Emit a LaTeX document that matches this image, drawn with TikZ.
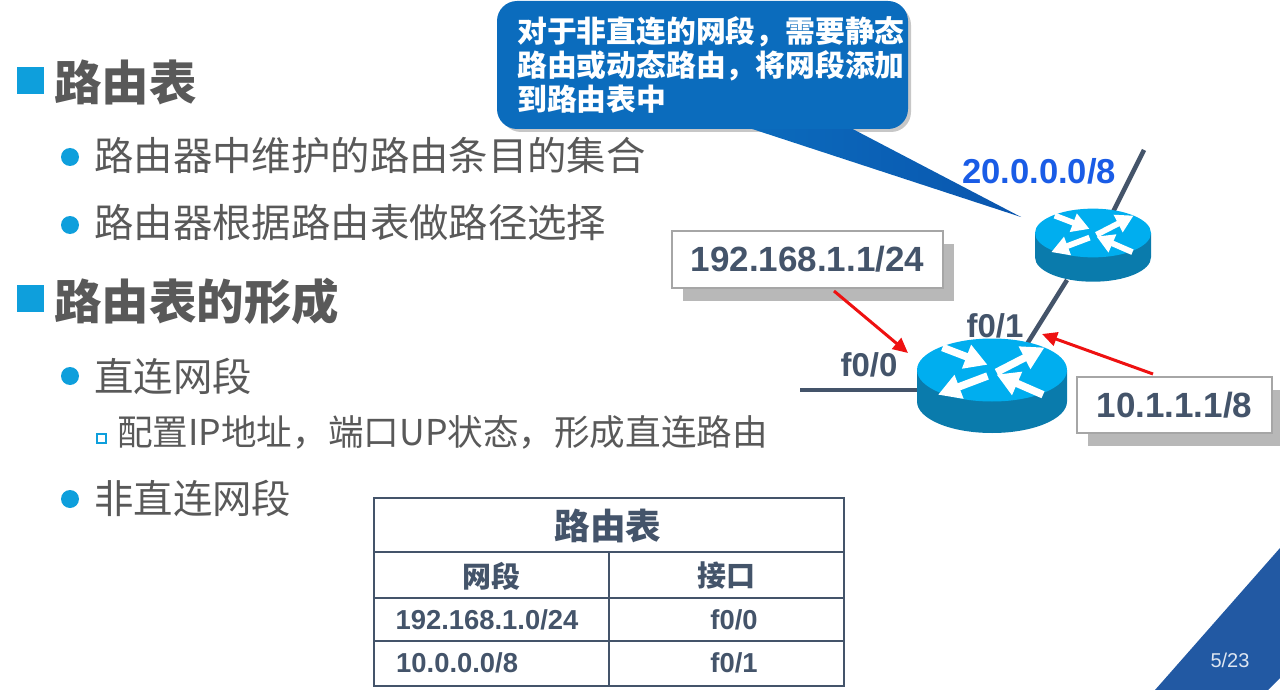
\documentclass[tikz,border=0pt]{standalone}
\usepackage{fontspec}
\setmainfont{Noto Sans CJK SC}
\newfontfamily\latinfont{Liberation Sans}
\usetikzlibrary{arrows.meta}
\definecolor{bodygray}{HTML}{595959}
\definecolor{slate}{HTML}{44546A}
\definecolor{bulletblue}{HTML}{0E9FDC}
\definecolor{noteblue}{HTML}{0B6CBD}
\definecolor{notedeep}{HTML}{0A55AE}
\definecolor{wanblue}{HTML}{1A5CE6}
\definecolor{routertop}{HTML}{00AEEF}
\definecolor{routerside}{HTML}{0A7BAC}
\definecolor{cornerblue}{HTML}{2259A3}
\definecolor{arrowred}{HTML}{EE1111}
\tikzset{
	head/.style={anchor=west,inner sep=0pt,text=bodygray,font=\bfseries\fontsize{47.5}{47.5}\selectfont},
	item/.style={anchor=west,inner sep=0pt,text=bodygray,font=\fontsize{39.4}{39.4}\selectfont},
	subitem/.style={anchor=west,inner sep=0pt,text=bodygray,font=\fontsize{35.6}{35.6}\selectfont},
	port/.style={inner sep=0pt,text=slate,font=\latinfont\bfseries\fontsize{33}{33}\selectfont},
	addrbox/.style={draw=black!35,fill=white,line width=1.2pt,inner sep=0pt,text=slate,font=\latinfont\bfseries\fontsize{35}{35}\selectfont},
	cellcjk/.style={inner sep=0pt,text=slate,font=\bfseries\fontsize{29}{29}\selectfont},
	cell/.style={inner sep=0pt,text=slate,font=\latinfont\bfseries\fontsize{27.4}{27.4}\selectfont},
	redarrow/.style={arrowred,line width=3pt,-{Triangle[length=15pt,width=14pt]}},
	link/.style={slate,line width=4.5pt},
	router/.pic={
		\fill[routerside] (-1,0) -- (-1,-.42) arc[start angle=180,end angle=360,x radius=1,y radius=.42] -- (1,0) -- cycle;
		\fill[routertop] (0,0) ellipse[x radius=1,y radius=.42];
		\foreach \fromx/\fromy/\tox/\toy in {-.66/.3/-.06/.07,.06/-.03/.7/.3,-.06/-.08/-.72/-.33,.68/-.33/.06/-.06}
			\draw[white,-{Triangle[length=0pt 3,width=0pt 3.2]}] (\fromx,\fromy) -- (\tox,\toy);
	}
}
\begin{document}
\begin{tikzpicture}[x=1pt,y=-1pt]
	\useasboundingbox (0,0) rectangle (1280,690);
	% left column
	\fill[bulletblue] (17,67) rectangle (44,94);
	\node[head] (headtable) at (54,82) {路由表};
	\fill[bulletblue] (70,157) circle[radius=9];
	\node[item] (itemone) at (94,155) {路由器中维护的路由条目的集合};
	\fill[bulletblue] (70,225) circle[radius=9];
	\node[item] (itemtwo) at (94,223) {路由器根据路由表做路径选择};
	\fill[bulletblue] (17,285) rectangle (44,312);
	\node[head] (headform) at (54,301) {路由表的形成};
	\fill[bulletblue] (70,376) circle[radius=9];
	\node[item] (itemdirect) at (94,376) {直连网段};
	\draw[bulletblue,line width=2pt] (96.5,434) rectangle (105.5,443);
	\node[subitem] (subdirect) at (117,432) {配置IP地址，端口UP状态，形成直连路由};
	\fill[bulletblue] (70,499) circle[radius=9];
	\node[item] (itemindirect) at (94,498) {非直连网段};

	% callout
	\fill[black!22,rounded corners=20pt] (501,5) rectangle (911,132);
	\shade[left color=noteblue,right color=notedeep] (740,125) -- (1021,217) -- (845,125) -- cycle;
	\fill[noteblue,rounded corners=20pt] (497,1) rectangle (908,129);
	\node[anchor=north west,inner sep=0pt,text=white,align=left,font=\bfseries\fontsize{29.8}{34}\selectfont] (note) at (517,16) {对于非直连的网段，需要静态\\路由或动态路由，将网段添加\\到路由表中};

	% network
	\coordinate (lanend) at (800,390);
	\coordinate (lanport) at (930,390);
	\coordinate (wanend) at (1144,150);
	\coordinate (wanport) at (1110,218);
	\coordinate (uplinka) at (1027,344);
	\coordinate (uplinkb) at (1067,280);
	\coordinate (lowhub) at (992,370);
	\coordinate (highhub) at (1093,233);
	\draw[link] (lanend) -- (lanport);
	\draw[link] (uplinka) -- (uplinkb);
	\draw[link] (wanend) -- (wanport);
	\pic[x=75pt,y=75pt,line width=7.5pt] (routerlow) at (lowhub) {router};
	\pic[x=58pt,y=58pt,line width=5.8pt] (routerhigh) at (highhub) {router};
	\node[inner sep=0pt,text=wanblue,font=\latinfont\bfseries\fontsize{34.6}{34.6}\selectfont] (wanlabel) at (1039,171) {20.0.0.0/8};
	\node[port] (portone) at (995,326) {f0/1};
	\node[port] (portzero) at (869,365) {f0/0};

	\fill[black!28] (683,244) rectangle (954,301);
	\node[addrbox,minimum width=271pt,minimum height=57pt] (addrlan) at (807.5,259.5) {192.168.1.1/24};
	\fill[black!28] (1088,390) rectangle (1280,446);
	\node[addrbox,minimum width=195pt,minimum height=56pt] (addrwan) at (1174.5,405) {10.1.1.1/8};
	\coordinate (lanfoot) at (834,291);
	\coordinate (wanfoot) at (1153,374);
	\coordinate (lantip) at (908,353);
	\coordinate (wantip) at (1042,334);
	\draw[redarrow] (lanfoot) -- (lantip);
	\draw[redarrow] (wanfoot) -- (wantip);

	% routing table
	\draw[slate,line width=2pt] (374,498) rectangle (844,686);
	\draw[slate,line width=2pt] (374,552) -- (844,552);
	\draw[slate,line width=2pt] (374,598) -- (844,598);
	\draw[slate,line width=2pt] (374,641) -- (844,641);
	\draw[slate,line width=2pt] (609,552) -- (609,686);
	\node[cellcjk,font=\bfseries\fontsize{35.6}{35.6}\selectfont] (tabletitle) at (608,526) {路由表};
	\node[cellcjk] (colnet) at (491,576) {网段};
	\node[cellcjk] (colport) at (726,576) {接口};
	\node[cell] (netone) at (487,620) {192.168.1.0/24};
	\node[cell] (portcellone) at (734,620) {f0/0};
	\node[cell,anchor=west] (nettwo) at (396,663) {10.0.0.0/8};
	\node[cell] (portcelltwo) at (734,663) {f0/1};

	% corner
	\fill[cornerblue] (1280,548) -- (1155,690) -- (1268,690) -- (1280,678) -- cycle;
	\node[inner sep=0pt,text=white!85!cornerblue,font=\latinfont\fontsize{20}{20}\selectfont] (pagenum) at (1230,660) {5/23};
\end{tikzpicture}
\end{document}
